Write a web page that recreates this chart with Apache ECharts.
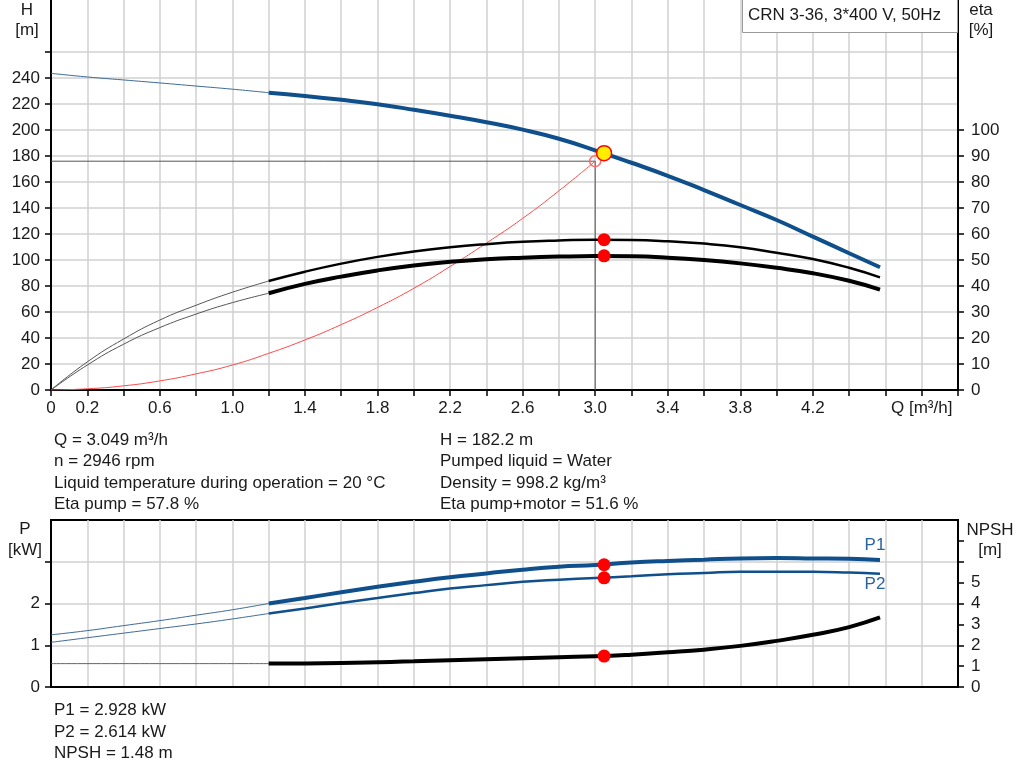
<!DOCTYPE html>
<html><head><meta charset="utf-8">
<script src="https://cdn.jsdelivr.net/npm/echarts@6/dist/echarts.min.js"></script>
<style>html,body{margin:0;padding:0;background:#fff}#c{width:1024px;height:781px}</style>
</head><body><div id="c"></div>
<script>
// ---- data ----
const qThin = [0, 0.2, 0.4, 0.6, 0.8, 1.0, 1.2];
const qThick = [1.2, 1.4, 1.6, 1.8, 2.0, 2.2, 2.4, 2.6, 2.8, 3.0, 3.2, 3.4, 3.6, 3.8, 4.0, 4.2, 4.4, 4.57];

const headThin = [243.6, 240.8, 238.5, 236.2, 233.8, 231.4, 228.7];
const headThick = [228.7, 226.2, 223.2, 219.8, 215.6, 211.0, 206.0, 200.3, 193.3, 184.4, 174.8, 164.8, 153.8, 142.3, 130.8, 118.0, 105.2, 94.4];

const etaPumpThin = [0, 10.8, 19.6, 26.9, 32.6, 37.6, 41.9];
const etaPumpThick = [41.9, 45.5, 48.6, 51.2, 53.3, 54.9, 56.1, 57.0, 57.5, 57.8, 57.7, 57.2, 56.3, 54.9, 52.8, 50.4, 47.0, 43.3];

const etaTotThin = [0, 9.6, 17.6, 24.0, 29.2, 33.6, 37.2];
const etaTotThick = [37.2, 40.8, 43.6, 46.0, 47.9, 49.3, 50.3, 50.9, 51.3, 51.5, 51.4, 50.9, 50.0, 48.7, 47.0, 44.9, 42.0, 38.6];

const qSystem = [0, 0.2, 0.4, 0.6, 0.8, 1.0, 1.2, 1.4, 1.6, 1.8, 2.0, 2.2, 2.4, 2.6, 2.8, 3.0];
const hSystem = [0, 0.9, 3.2, 7.0, 12.4, 19.2, 28.2, 38.5, 50.3, 63.5, 78.2, 95.0, 113.0, 132.0, 153.2, 176.0];

const p1Thin = [1.25, 1.35, 1.47, 1.59, 1.72, 1.85, 2.0];
const p1Thick = [2.0, 2.13, 2.27, 2.40, 2.52, 2.63, 2.72, 2.81, 2.88, 2.92, 2.98, 3.02, 3.05, 3.08, 3.09, 3.08, 3.07, 3.04];
const p2Thin = [1.07, 1.18, 1.29, 1.40, 1.51, 1.63, 1.76];
const p2Thick = [1.76, 1.88, 2.01, 2.13, 2.25, 2.36, 2.44, 2.52, 2.57, 2.61, 2.65, 2.70, 2.73, 2.76, 2.76, 2.76, 2.74, 2.71];

const qNpshThin = [0, 1.2];
const npshThin = [1.12, 1.12];
const qNpsh = [1.2, 1.6, 2.0, 2.4, 2.8, 3.0, 3.2, 3.4, 3.6, 3.8, 4.0, 4.2, 4.4, 4.57];
const npshThick = [1.12, 1.15, 1.23, 1.33, 1.43, 1.47, 1.55, 1.66, 1.79, 1.97, 2.21, 2.50, 2.87, 3.33];

// operating / duty point
const opQ = 3.049, opH = 182.2, opEtaPump = 57.8, opEtaTot = 51.6, opP1 = 2.928, opP2 = 2.614, opNpsh = 1.48;
const dutyQ = 3.0, dutyH = 176;

// tick labels
const xLabelValues = [0, 0.2, 0.6, 1.0, 1.4, 1.8, 2.2, 2.6, 3.0, 3.4, 3.8, 4.2, 4.8];
const hTicks = [0,20,40,60,80,100,120,140,160,180,200,220,240,260];
const hLabels = [0,20,40,60,80,100,120,140,160,180,200,220,240];
const etaTicks = [0,10,20,30,40,50,60,70,80,90,100];
const pTicks = [0,1,2,3];
const pLabels = [0,1,2];
const npshTicks = [0,1,2,3,4,5,6,7];
const npshLabels = [0,1,2,3,4,5];

const infoLeft = ['Q = 3.049 m³/h', 'n = 2946 rpm', 'Liquid temperature during operation = 20 °C', 'Eta pump = 57.8 %'];
const infoRight = ['H = 182.2 m', 'Pumped liquid = Water', 'Density = 998.2 kg/m³', 'Eta pump+motor = 51.6 %'];
const infoBottom = ['P1 = 2.928 kW', 'P2 = 2.614 kW', 'NPSH = 1.48 m'];
const title = 'CRN 3-36, 3*400 V, 50Hz';

// ---- chart ----
const zip = (a, b) => a.map((v, i) => [v, b[i]]);
const FONT = '"Liberation Sans", Arial, sans-serif';
const FS = 17;
const TXT = '#1a1a1a';
const BLUE = '#0f4f8c';
const GRIDC = '#d0d0d0';

function lineSeries(name, data, xi, yi, color, width, z) {
  return { name, type: 'line', data, xAxisIndex: xi, yAxisIndex: yi, smooth: true, symbol: 'none',
    lineStyle: { color, width }, z: z || 3, silent: true, animation: false };
}
function dot(data, xi, yi, size, fill, border) {
  return { type: 'scatter', data, xAxisIndex: xi, yAxisIndex: yi, symbolSize: size,
    itemStyle: { color: fill, borderColor: border || fill, borderWidth: border ? 1.5 : 0, opacity: 1 }, z: 10, silent: true, animation: false };
}

const axisLineBlack = { show: true, lineStyle: { color: '#000', width: 2 } };
const tickBlack = { show: true, length: 6, lineStyle: { color: '#000', width: 1.5 } };
const lbl = { color: TXT, fontSize: FS, fontFamily: FONT };

const xFmt = v => {
  const r = Math.round(v * 10);
  if (r === 48) return 'Q [m³/h]';
  if (r === 0) return '0';
  return (r / 10).toFixed(1);
};

const graphics = [];
function addText(x, y, t, align, color) {
  graphics.push({ type: 'text', x, y, silent: true,
    style: { text: t, x: 0, y: 0, fill: color || TXT, font: FS + 'px ' + FONT, align: align || 'left', verticalAlign: 'middle' } });
}
infoLeft.forEach((t, i) => addText(54, 440 + i * 21.6, t));
infoRight.forEach((t, i) => addText(440, 440 + i * 21.6, t));
infoBottom.forEach((t, i) => addText(54, 710.5 + i * 21.5, t));
addText(27, 10, 'H', 'center'); addText(27, 30.5, '[m]', 'center');
addText(981, 10, 'eta', 'center'); addText(981, 30.5, '[%]', 'center');
addText(25, 529, 'P', 'center'); addText(25, 550, '[kW]', 'center');
addText(990, 530, 'NPSH', 'center'); addText(990, 550.5, '[m]', 'center');
addText(875, 545, 'P1', 'center', '#2a62a0'); addText(875, 584, 'P2', 'center', '#2a62a0');
graphics.push({ type: 'rect', x: 742.5, y: -2, shape: { x: 0, y: 0, width: 215, height: 34.5 }, silent: true,
  style: { fill: '#fff', stroke: '#9a9a9a', lineWidth: 1 }, z: 50 });
graphics.push({ type: 'text', x: 748, y: 15, silent: true, z: 51,
  style: { text: title, fill: TXT, font: FS + 'px ' + FONT, verticalAlign: 'middle' } });

const option = {
  backgroundColor: '#fff',
  animation: false,
  textStyle: { fontFamily: FONT },
  grid: [
    { left: 51, top: 0, width: 907, height: 390, show: false },
    { left: 51, top: 520, width: 907, height: 167, show: true, borderColor: '#000', borderWidth: 2, backgroundColor: 'transparent' }
  ],
  xAxis: [
    { type: 'value', gridIndex: 0, min: 0, max: 5, interval: 0.2,
      axisLine: axisLineBlack, axisTick: Object.assign({}, tickBlack),
      axisLabel: Object.assign({}, lbl, { margin: 10, customValues: xLabelValues, formatter: xFmt }),
      splitLine: { show: true, lineStyle: { color: GRIDC, width: 1.5 } } },
    { type: 'value', gridIndex: 1, min: 0, max: 5, interval: 0.2,
      axisLine: axisLineBlack, axisTick: { show: false }, axisLabel: { show: false },
      splitLine: { show: true, lineStyle: { color: GRIDC, width: 1.5 } } }
  ],
  yAxis: [
    { type: 'value', gridIndex: 0, position: 'left', min: 0, max: 300, interval: 20,
      axisLine: axisLineBlack, axisTick: Object.assign({}, tickBlack, { customValues: hTicks }),
      axisLabel: Object.assign({}, lbl, { margin: 11, customValues: hLabels }),
      splitLine: { show: true, lineStyle: { color: GRIDC, width: 1.5 } } },
    { type: 'value', gridIndex: 0, position: 'right', min: 0, max: 150, interval: 10,
      axisLine: axisLineBlack, axisTick: Object.assign({}, tickBlack, { customValues: etaTicks }),
      axisLabel: Object.assign({}, lbl, { margin: 13, customValues: etaTicks }),
      splitLine: { show: false } },
    { type: 'value', gridIndex: 1, position: 'left', min: 0, max: 4, interval: 1,
      axisLine: axisLineBlack, axisTick: Object.assign({}, tickBlack, { customValues: pTicks }),
      axisLabel: Object.assign({}, lbl, { margin: 11, customValues: pLabels }),
      splitLine: { show: true, lineStyle: { color: GRIDC, width: 1.5 } } },
    { type: 'value', gridIndex: 1, position: 'right', min: 0, max: 8, interval: 1,
      axisLine: axisLineBlack, axisTick: Object.assign({}, tickBlack, { customValues: npshTicks }),
      axisLabel: Object.assign({}, lbl, { margin: 13, customValues: npshLabels }),
      splitLine: { show: false } }
  ],
  graphic: graphics,
  series: [
    // duty point crosshair
    { type: 'line', data: [[0, dutyH], [dutyQ, dutyH], [dutyQ, 0]], xAxisIndex: 0, yAxisIndex: 0, symbol: 'none',
      lineStyle: { color: '#555', width: 1 }, z: 2, silent: true, animation: false },
    // system curve
    lineSeries('system', zip(qSystem, hSystem), 0, 0, '#ff4a4a', 1, 3),
    // head
    lineSeries('Hthin', zip(qThin, headThin), 0, 0, '#3e6a96', 1, 3),
    lineSeries('H', zip(qThick, headThick), 0, 0, BLUE, 4, 4),
    // eta
    lineSeries('etaPthin', zip(qThin, etaPumpThin), 0, 1, '#555', 1, 3),
    lineSeries('etaP', zip(qThick, etaPumpThick), 0, 1, '#000', 2.5, 4),
    lineSeries('etaTthin', zip(qThin, etaTotThin), 0, 1, '#555', 1, 3),
    lineSeries('etaT', zip(qThick, etaTotThick), 0, 1, '#000', 4, 4),
    // power
    lineSeries('P1thin', zip(qThin, p1Thin), 1, 2, '#3e6a96', 1, 3),
    lineSeries('P1', zip(qThick, p1Thick), 1, 2, BLUE, 4, 4),
    lineSeries('P2thin', zip(qThin, p2Thin), 1, 2, '#3e6a96', 1, 3),
    lineSeries('P2', zip(qThick, p2Thick), 1, 2, BLUE, 2.5, 4),
    // npsh
    lineSeries('NPSHthin', zip(qNpshThin, npshThin), 1, 3, '#666', 1, 3),
    lineSeries('NPSH', zip(qNpsh, npshThick), 1, 3, '#000', 4, 4),
    // markers
    dot([[dutyQ, dutyH]], 0, 0, 11, 'rgba(255,255,255,0)', '#ff6b6b'),
    dot([[opQ, opH]], 0, 0, 15, '#ffee00', '#ff0000'),
    dot([[opQ, opEtaPump], [opQ, opEtaTot]], 0, 1, 13, '#ff0000'),
    dot([[opQ, opP1], [opQ, opP2]], 1, 2, 13, '#ff0000'),
    dot([[opQ, opNpsh]], 1, 3, 13, '#ff0000')
  ]
};
const chart = echarts.init(document.getElementById('c'), null, { renderer: 'canvas' });
chart.setOption(option);
</script>
</body></html>
